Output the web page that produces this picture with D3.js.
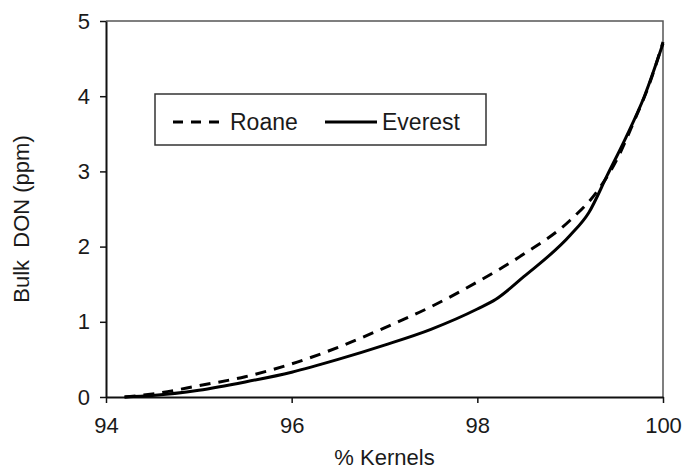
<!DOCTYPE html>
<html>
<head>
<meta charset="utf-8">
<script src="https://cdn.jsdelivr.net/npm/d3@7"></script>
<style>
  body { margin: 0; background: #fff; }
  text { font-family: "Liberation Sans", Arial, sans-serif; fill: #1a1a1a; }
</style>
</head>
<body>
<svg id="chart" width="684" height="469"></svg>
<script>
// data
var kernels = [94.2, 94.5, 95.0, 95.5, 96.0, 96.5, 97.0, 97.5, 98.0, 98.5, 99.0, 99.3, 99.5, 99.7, 99.85, 100];
var roane   = [0, 0.04, 0.15, 0.27, 0.44, 0.66, 0.92, 1.2, 1.53, 1.9, 2.35, 2.75, 3.15, 3.7, 4.15, 4.72];

var kernelsEv = [94.2, 94.5, 95.0, 95.5, 96.0, 96.5, 97.0, 97.5, 98.0, 98.2, 98.5, 99.0, 99.2, 99.4, 99.6, 99.8, 100];
var everest   = [0, 0.02, 0.09, 0.2, 0.33, 0.5, 0.69, 0.9, 1.17, 1.3, 1.6, 2.15, 2.45, 2.95, 3.45, 4.0, 4.7];

var xTicks = [94, 96, 98, 100];
var yTicks = [0, 1, 2, 3, 4, 5];

var svg = d3.select('#chart');
var mLeft = 106, mRight = 663, mTop = 21, mBottom = 397;

var x = d3.scaleLinear().domain([94, 100]).range([mLeft, mRight]);
var y = d3.scaleLinear().domain([0, 5]).range([mBottom, mTop]);

// frame on top and right
svg.append('path')
    .attr('d', 'M' + mLeft + ',' + mTop + 'H' + mRight + 'V' + mBottom)
    .attr('fill', 'none')
    .attr('stroke', '#555')
    .attr('stroke-width', 1.5);

var xAxis = svg.append('g')
    .attr('transform', 'translate(0,' + mBottom + ')')
    .call(d3.axisBottom(x).tickValues(xTicks).tickFormat(d3.format('d'))
	  .tickSize(6).tickPadding(14).tickSizeOuter(0));

var yAxis = svg.append('g')
    .attr('transform', 'translate(' + mLeft + ',0)')
    .call(d3.axisLeft(y).tickValues(yTicks).tickFormat(d3.format('d'))
	  .tickSize(6).tickPadding(10).tickSizeOuter(0));

[xAxis, yAxis].forEach(function(a){
    a.select('.domain').attr('stroke', '#111').attr('stroke-width', 2);
    a.selectAll('.tick line').attr('stroke', '#111').attr('stroke-width', 1.5);
    a.selectAll('.tick text')
	.style('font-family', '"Liberation Sans", Arial, sans-serif')
	.style('font-size', '22px')
	.attr('fill', '#1a1a1a');
});

// axis titles
svg.append('text')
    .attr('x', (mLeft + mRight) / 2)
    .attr('y', 465)
    .attr('text-anchor', 'middle')
    .style('font-size', '22px')
    .text('% Kernels');

svg.append('text')
    .attr('transform', 'translate(29,219) rotate(-90)')
    .attr('text-anchor', 'middle')
    .style('font-size', '22px')
    .text('Bulk\u00a0\u00a0DON (ppm)');

// lines
var line = d3.line()
    .x(function(d){ return x(d[0]); })
    .y(function(d){ return y(d[1]); })
    .curve(d3.curveMonotoneX);

var roanePts = kernels.map(function(k, i){ return [k, roane[i]]; });
var everestPts = kernelsEv.map(function(k, i){ return [k, everest[i]]; });

svg.append('path')
    .datum(everestPts)
    .attr('d', line)
    .attr('fill', 'none')
    .attr('stroke', '#000')
    .attr('stroke-width', 3);

svg.append('path')
    .datum(roanePts)
    .attr('d', line)
    .attr('fill', 'none')
    .attr('stroke', '#000')
    .attr('stroke-width', 3)
    .attr('stroke-dasharray', '11,8');

// legend
var legend = svg.append('g');
legend.append('rect')
    .attr('x', 155).attr('y', 94)
    .attr('width', 331).attr('height', 51)
    .attr('fill', '#fff')
    .attr('stroke', '#333')
    .attr('stroke-width', 1.5);

var items = [
    {name: 'Roane', dash: '10,8', x: 173},
    {name: 'Everest', dash: null, x: 325}
];
items.forEach(function(it){
    legend.append('line')
	.attr('x1', it.x).attr('x2', it.x + 52)
	.attr('y1', 122).attr('y2', 122)
	.attr('stroke', '#000')
	.attr('stroke-width', 3)
	.attr('stroke-dasharray', it.dash);
    legend.append('text')
	.attr('x', it.x + 57)
	.attr('y', 130)
	.style('font-size', '23px')
	.text(it.name);
});
</script>
</body>
</html>
